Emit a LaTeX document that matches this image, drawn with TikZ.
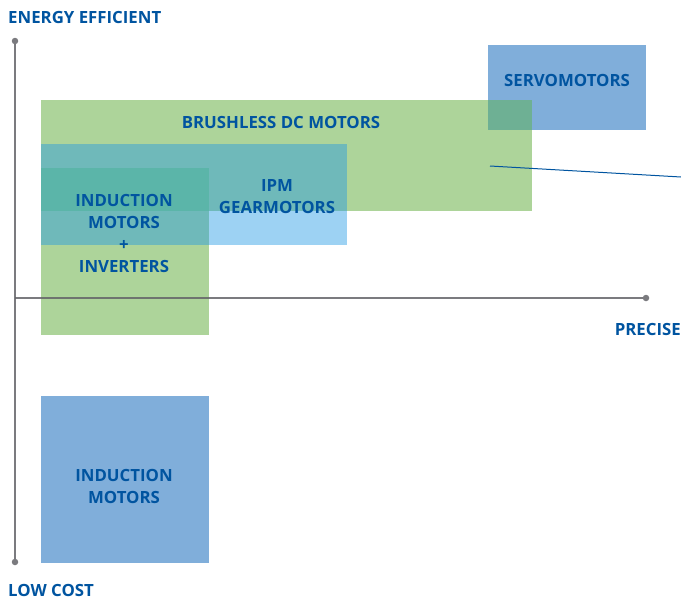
\documentclass[tikz,border=0pt]{standalone}
\usepackage{fontspec}
\setmainfont{Open Sans}
\usetikzlibrary{arrows,shapes}
\definecolor{textblue}{RGB}{0,84,160}
\definecolor{axisgray}{RGB}{100,100,104}
\definecolor{boxgreen}{RGB}{173,212,154}
\definecolor{deepgreen}{RGB}{138,204,123}
\definecolor{ipmblue}{RGB}{32,152,228}
\definecolor{servoblue}{RGB}{128,174,218}
\definecolor{servomix}{RGB}{110,176,148}
\tikzstyle{tag}=[font=\bfseries\fontsize{16.8}{22}\selectfont,text=textblue,align=center,inner sep=0pt]
\tikzstyle{axis}=[draw=axisgray,draw opacity=0.85,line width=2pt]
\tikzstyle{dot}=[circle,fill=axisgray!85,minimum size=6.5pt,inner sep=0pt]

\begin{document}
\begin{tikzpicture}[x=1pt,y=-1pt]
    \useasboundingbox (0,0) rectangle (681,600);
    % First we draw the coloured areas
    \fill[boxgreen] (41,100) rectangle (532,211);
    \fill[boxgreen] (41,168) rectangle (209,335);
    \fill[deepgreen] (41,168) rectangle (209,211);
    \fill[servoblue] (488,45) rectangle (646,130);
    \fill[servomix] (488,100) rectangle (532,130);
    \fill[ipmblue,fill opacity=0.44] (41,144) rectangle (347,245);
    \fill[servoblue] (41,396) rectangle (209,563);

    % Then the axes
    \node[dot] (ytop) at (15,41) {};
    \node[dot] (ybot) at (15,562) {};
    \node[dot] (xend) at (646,298) {};
    \coordinate (origin) at (15,298);
    \path[axis] (ytop) -- (ybot);
    \path[axis] (origin) -- (xend);

    % Labels
    \foreach \pos/\name/\txt in {{(281,122)/bldc/BRUSHLESS DC MOTORS}, {(567,80)/servo/SERVOMOTORS},
        {(277,197)/ipm/IPM\\GEARMOTORS}, {(124,233)/indinv/INDUCTION\\MOTORS\\+\\INVERTERS},
        {(124,486)/ind/INDUCTION\\MOTORS}}
        \node[tag] (\name) at \pos {\txt};
    \node[tag,anchor=west] (efficient) at (8,17) {ENERGY EFFICIENT};
    \node[tag,anchor=east] (precise) at (681,329) {PRECISE};
    \node[tag,anchor=west] (lowcost) at (8,590) {LOW COST};

    % Pointer line leaving the picture
    \coordinate (pstart) at (490,166);
    \coordinate (pend) at (681,177);
    \draw[textblue,line width=1pt] (pstart) -- (pend);
\end{tikzpicture}
\end{document}
